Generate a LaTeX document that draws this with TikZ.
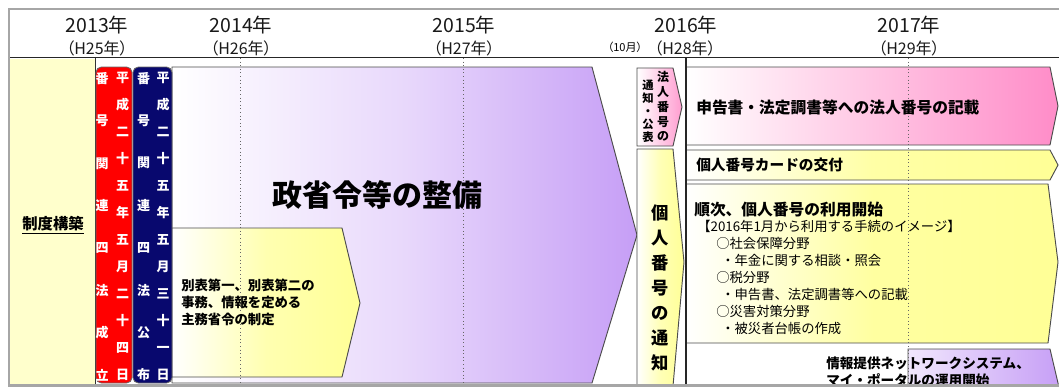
\documentclass[tikz,border=0pt]{standalone}
\usepackage{fontspec}
\setmainfont{Noto Sans CJK JP}
\newfontfamily\cjkp[CharacterWidth=AlternateProportional]{Noto Sans CJK JP}
\definecolor{colyel}{RGB}{255,255,204}
\definecolor{yel}{RGB}{255,255,150}
\definecolor{pnk}{RGB}{255,140,200}
\definecolor{purp}{RGB}{198,158,246}
\definecolor{navyb}{RGB}{8,8,110}
\definecolor{redb}{RGB}{255,0,0}
\begin{document}
\begin{tikzpicture}[x=0.75pt,y=-0.75pt,
  shp/.style={draw=black!70, line width=0.7pt},
  lbl/.style={inner sep=0pt, anchor=west, text=black},
  vt/.style={inner sep=0pt, align=center},
  yr/.style={inner sep=0pt, font=\cjkp\fontsize{14.6pt}{16pt}\selectfont, text=black!90},
  hy/.style={inner sep=0pt, font=\cjkp\fontsize{12pt}{14pt}\selectfont, text=black!90},
  dots/.style={black!60, dotted, line width=0.7pt}]
\useasboundingbox (0,0) rectangle (1059,387);
\fill[white] (0,0) rectangle (1059,387);
% header
\node[yr] (y13) at (97,25) {2013年};
\node[hy] (h25) at (97,48) {（H25年）};
\node[yr] (y14) at (241,25) {2014年};
\node[hy] (h26) at (241,48) {（H26年）};
\node[yr] (y15) at (464,25) {2015年};
\node[hy] (h27) at (464,48) {（H27年）};
\node[inner sep=0pt, font=\cjkp\fontsize{8.3pt}{10pt}\selectfont] (oct) at (625,47) {（10月）};
\node[yr] (y16) at (686,25) {2016年};
\node[hy] (h28) at (685,48) {（H28年）};
\node[yr] (y17) at (909,25) {2017年};
\node[hy] (h29) at (909,48) {（H29年）};
\begin{scope}
\clip (10,10) rectangle (1059,385);
% left column
\fill[colyel] (10,59) rectangle (95,385);
\draw[black!80, line width=0.6pt] (95,58) -- (95,385);
\node[inner sep=0pt, font=\bfseries\fontsize{11.5pt}{13pt}\selectfont] (kouchiku) at (53,225) {\underline{制度構築}};
% big purple arrow
\draw[shp, left color=white, right color=purp, middle color=purp!40!white]
  (172,67) -- (592,67) -- (637,235) -- (592,383) -- (172,383) -- cycle;
% small yellow arrow
\draw[shp, left color=white, right color=yel, middle color=yel!75!white]
  (172,228) -- (342,228) -- (360,303) -- (342,377) -- (172,377) -- cycle;
% red and navy boxes
\draw[fill=redb, draw=black!60, line width=0.6pt, rounded corners=4pt] (96,67) rectangle (132,383);
\draw[fill=navyb, draw=black!60, line width=0.6pt, rounded corners=4pt] (133,67) rectangle (172,383);
\node[vt, text=white, font=\bfseries\fontsize{9.75pt}{31.8pt}\selectfont] (rl) at (102,226.5) {番\\号\\関\\連\\四\\法\\成\\立};
\node[vt, text=white, font=\bfseries\fontsize{9.75pt}{20.25pt}\selectfont] (rr) at (122.5,226.5) {平\\成\\二\\十\\五\\年\\五\\月\\二\\十\\四\\日};
\node[vt, text=white, font=\bfseries\fontsize{9.75pt}{31.8pt}\selectfont] (nl) at (143.5,226.5) {番\\号\\関\\連\\四\\法\\公\\布};
\node[vt, text=white, font=\bfseries\fontsize{9.75pt}{20.25pt}\selectfont] (nr) at (163,226.5) {平\\成\\二\\十\\五\\年\\五\\月\\三\\十\\一\\日};
% right side small arrows
\draw[shp, left color=white, right color=pnk!85!white]
  (637,68) -- (673,68) -- (682,107) -- (673,146) -- (637,146) -- cycle;
\draw[shp, left color=white, right color=yel, middle color=yel!70!white]
  (637,149) -- (673,149) -- (684,262) -- (673,386) -- (637,386) -- cycle;
\node[vt, font=\bfseries\fontsize{9pt}{11.06pt}\selectfont] (hr) at (663,106.5) {法\\人\\番\\号\\の};
\node[vt, font=\bfseries\fontsize{8.5pt}{9.75pt}\selectfont] (hl) at (648,111) {通\\知\\・\\公\\表};
\node[vt, font=\bfseries\fontsize{13pt}{18.75pt}\selectfont] (kt) at (660,288) {個\\人\\番\\号\\の\\通\\知};
% long arrows
\draw[shp, left color=white, right color=pnk]
  (686,67) -- (1050,67) -- (1058,106) -- (1050,145) -- (686,145) -- cycle;
\draw[shp, left color=white, right color=yel, middle color=yel!85!white]
  (686,150) -- (1050,150) -- (1058,165) -- (1050,180) -- (686,180) -- cycle;
\draw[shp, left color=white, right color=yel, middle color=yel!90!white]
  (686,184) -- (1048,184) -- (1058,262) -- (1048,343) -- (686,343) -- cycle;
\draw[shp, left color=purp!25!white, right color=purp]
  (908,349) -- (1050,349) -- (1062,400) -- (908,400) -- cycle;
% dotted year lines
\draw[dots] (240,58) -- (240,385);
\draw[dots] (463,58) -- (463,385);
\draw[dots] (908,58) -- (908,385);
\draw[black!85, line width=0.8pt] (686,58) -- (686,385);
% texts
\node[lbl, font=\bfseries\fontsize{22.5pt}{26pt}\selectfont] (seirei) at (272,195) {政省令等の整備};
\node[lbl, align=left, font=\bfseries\fontsize{10pt}{12.75pt}\selectfont] (beppyo) at (181,302) {別表第一、別表第二の\\事務、情報を定める\\主務省令の制定};
\node[lbl, font=\bfseries\fontsize{11.8pt}{14pt}\selectfont] (houjin) at (696,107) {申告書・法定調書等への法人番号の記載};
\node[lbl, font=\bfseries\fontsize{11pt}{13pt}\selectfont] (card) at (696,165) {個人番号カードの交付};
\node[lbl, font=\bfseries\fontsize{11.8pt}{14pt}\selectfont] (junji) at (694,210) {順次、個人番号の利用開始};
\node[lbl, font=\fontsize{10pt}{12pt}\selectfont] (img) at (697,226) {【2016年1月から利用する手続のイメージ】};
\node[lbl, font=\fontsize{10pt}{12pt}\selectfont] (l1) at (716,243) {○社会保障分野};
\node[lbl, font=\fontsize{10pt}{12pt}\selectfont] (l2) at (721,260) {・年金に関する相談・照会};
\node[lbl, font=\fontsize{10pt}{12pt}\selectfont] (l3) at (716,277) {○税分野};
\node[lbl, font=\fontsize{10pt}{12pt}\selectfont] (l4) at (721,294) {・申告書、法定調書等への記載};
\node[lbl, font=\fontsize{10pt}{12pt}\selectfont] (l5) at (716,311) {○災害対策分野};
\node[lbl, font=\fontsize{10pt}{12pt}\selectfont] (l6) at (721,328) {・被災者台帳の作成};
\node[lbl, align=left, font=\bfseries\fontsize{10.2pt}{12.75pt}\selectfont] (net) at (826,372) {情報提供ネットワークシステム、\\マイ・ポータルの運用開始};
\end{scope}
\draw[black!85, line width=1.2pt] (10,57.5) -- (1059,57.5);
\draw[gray!70, line width=2.2pt] (9,9) rectangle (1075,385.5);
\end{tikzpicture}
\end{document}
